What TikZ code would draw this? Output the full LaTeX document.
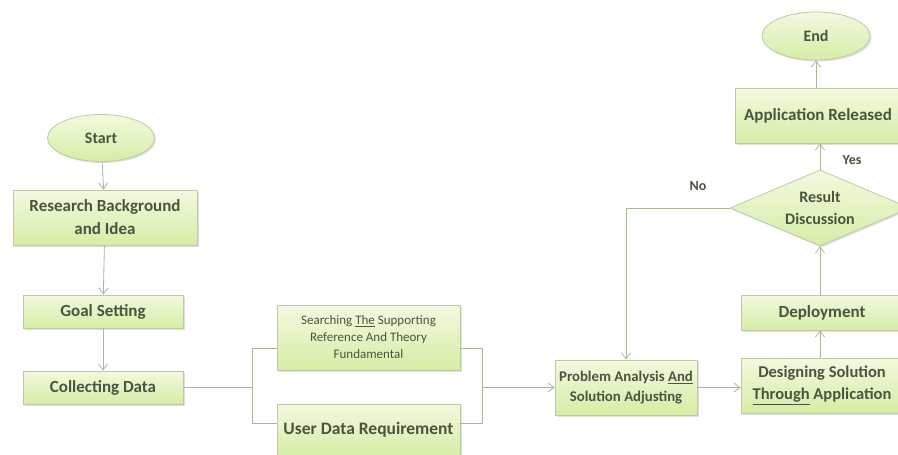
\documentclass[tikz,border=0pt]{standalone}
\usepackage{fontspec}
\setmainfont{Carlito}
\usetikzlibrary{shapes.geometric,shadows,arrows.meta}
\definecolor{boxtop}{HTML}{F3F9DF}
\definecolor{boxbot}{HTML}{D6EDA6}
\definecolor{boxline}{HTML}{BCCBA4}
\definecolor{conn}{HTML}{A9B79C}
\definecolor{txt}{HTML}{4A553F}
\tikzset{
  base/.style={draw=boxline, line width=0.8pt, top color=boxtop, bottom color=boxbot,
    text=txt, align=center, inner sep=1pt,
    drop shadow={opacity=0.25, shadow xshift=1.5pt, shadow yshift=-1.5pt}},
  stepbox/.style={base, rectangle, font=\bfseries\fontsize{17}{23}\selectfont},
  term/.style={base, ellipse, font=\bfseries\fontsize{16}{19}\selectfont},
  decide/.style={base, diamond, aspect=2.3, inner sep=0pt, font=\bfseries\fontsize{16}{22}\selectfont},
  conline/.style={draw=conn, line width=0.8pt},
  arr/.style={conline, -{Straight Barb[length=6pt,width=9pt]}},
  lbl/.style={text=txt, font=\bfseries\fontsize{14}{16}\selectfont}
}
\begin{document}
\begin{tikzpicture}[x=1pt,y=-1pt]
\clip (0,0) rectangle (898,455);
\fill[white] (0,0) rectangle (898,455);

\node[term, minimum width=107pt, minimum height=47pt] (start) at (101,138) {Start};
\node[stepbox, minimum width=184pt, minimum height=55pt] (research) at (105,217.5) {Research Background\\and Idea};
\node[stepbox, minimum width=160pt, minimum height=33pt] (goal) at (103,311.5) {Goal Setting};
\node[stepbox, minimum width=160pt, minimum height=33pt] (collect) at (103,387.5) {Collecting Data};
\node[stepbox, minimum width=183pt, minimum height=65pt, font=\fontsize{13}{17}\selectfont] (search) at (368.5,337.5) {Searching \underline{The} Supporting\\Reference And Theory\\Fundamental};
\node[stepbox, minimum width=183pt, minimum height=52pt, font=\bfseries\fontsize{17.5}{20}\selectfont] (user) at (368.5,430) {User Data Requirement};
\node[stepbox, minimum width=142pt, minimum height=55pt, font=\bfseries\fontsize{14.8}{20}\selectfont] (problem) at (626,387.5) {Problem Analysis \underline{And}\\Solution Adjusting};
\node[stepbox, minimum width=162pt, minimum height=55pt, font=\bfseries\fontsize{16.5}{22}\selectfont] (design) at (822,385.5) {Designing Solution\\\underline{Through} Application};
\node[stepbox, minimum width=162pt, minimum height=35pt] (deploy) at (822,312.5) {Deployment};
\node[decide, minimum width=180pt, minimum height=76pt] (result) at (820,208) {Result\\Discussion};
\node[stepbox, minimum width=166pt, minimum height=55pt] (app) at (818,115.5) {Application Released};
\node[term, minimum width=108pt, minimum height=48pt] (end) at (816,36) {End};

\coordinate (cl) at (252,387.5);
\coordinate (clt) at (252,348);
\coordinate (clb) at (252,423);
\coordinate (crt) at (482,348);
\coordinate (crb) at (482,423);
\coordinate (crm) at (482,387.5);
\coordinate (nocorner) at (626,208);

\draw[arr] (start) -- (research);
\draw[arr] (research) -- (goal);
\draw[arr] (goal) -- (collect);
\draw[conline] (collect.east) -- (cl);
\draw[conline] (search.west |- clt) -- (clt) -- (clb) -- (user.west |- clb);
\draw[conline] (search.east |- crt) -- (crt) -- (crb) -- (user.east |- crb);
\draw[arr] (crm) -- (problem.west);
\draw[arr] (problem.east) -- (design.west |- problem.east);
\draw[arr] (design.north -| result.south) -- (deploy.south -| result.south);
\draw[arr] (deploy.north -| result.south) -- (result.south);
\draw[arr] (result.north) -- (app.south -| result.north);
\draw[arr] (app.north -| end.south) -- (end.south);
\draw[conline] (result.west) -- (nocorner);
\draw[arr] (nocorner) -- (problem.north);

\node[lbl] (no) at (698,186) {No};
\node[lbl] (yes) at (852,160) {Yes};
\end{tikzpicture}
\end{document}
